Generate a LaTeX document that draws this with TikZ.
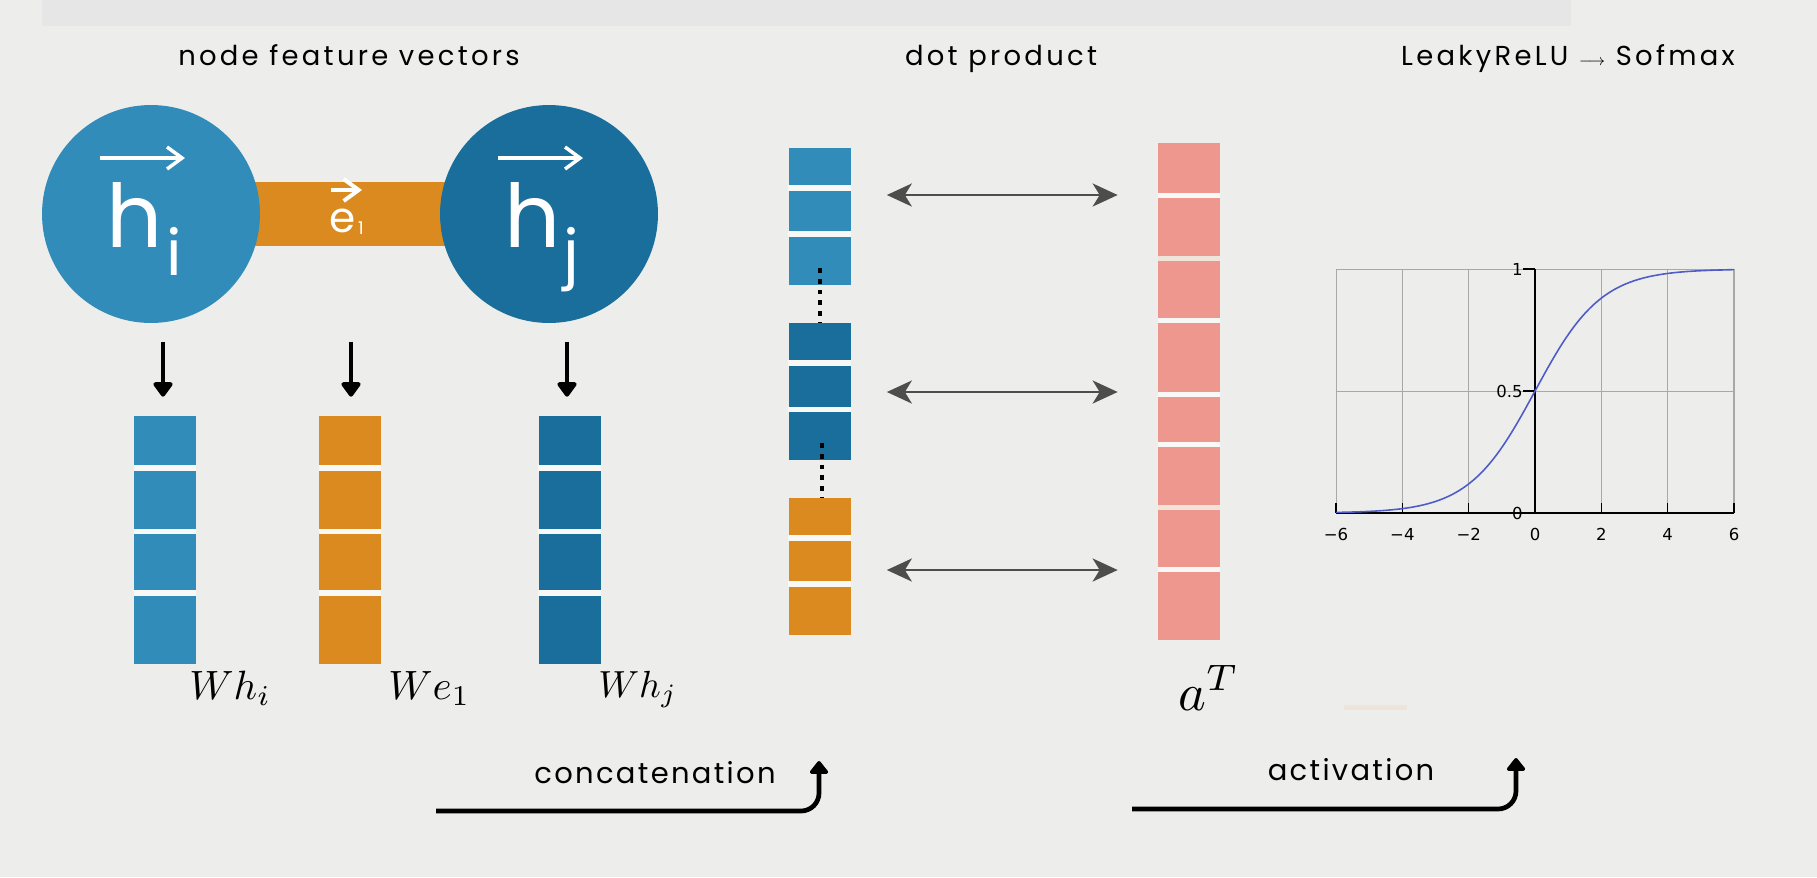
\documentclass[tikz,border=0pt]{standalone}
\usepackage{amsmath}
\usepackage{graphicx}
\usepackage{fontspec}
\usepackage{tikz}
\usetikzlibrary{arrows.meta,calc}

\newfontfamily\gothic[LetterSpace=12]{Poppins}
\newfontfamily\stepfont[LetterSpace=8]{Poppins}
\newfontfamily\hfont{Poppins}
\newfontfamily\tickfont{DejaVu Sans}

\definecolor{bgcol}{HTML}{EDEEEC}
\definecolor{topbar}{HTML}{E6E6E6}
\definecolor{lblue}{HTML}{318CBA}
\definecolor{dblue}{HTML}{1A6E9C}
\definecolor{orng}{HTML}{DB8A20}
\definecolor{salmon}{HTML}{EE978E}
\definecolor{beige}{HTML}{EFE4DA}
\definecolor{arrgray}{HTML}{4D4D4D}
\definecolor{sigblue}{HTML}{4F5BC8}
\definecolor{gridgray}{HTML}{A8A8A8}

\pgfdeclarelayer{back}
\pgfsetlayers{back,main}

\begin{document}
\begin{tikzpicture}[
        x=0.02cm, y=-0.02cm,
        title/.style={font=\gothic\fontsize{15.6}{18}\selectfont, anchor=base, inner sep=0},
        steplbl/.style={font=\stepfont\fontsize{16.5}{20}\selectfont, anchor=base, inner sep=0},
        mathlbl/.style={anchor=base west, inner sep=0},
        feat/.style={circle, minimum size=4.36cm, inner sep=0},
        vecbox/.style={inner sep=0, minimum width=1.24cm},
        cellsep/.style={line width=0.11cm, bgcol!40!white},
        hglyph/.style={font=\hfont\fontsize{50}{50}\selectfont, text=white, anchor=base, inner sep=0},
        subglyph/.style={font=\hfont\fontsize{36}{36}\selectfont, text=white, anchor=base, inner sep=0},
        overarr/.style={white, line width=0.07cm, -{Straight Barb[length=0.3cm,width=0.44cm]}},
        downarr/.style={line width=0.08cm, -{Triangle[length=0.32cm,width=0.44cm,round]}},
        dblarr/.style={arrgray, line width=0.055cm, shorten <=0.72cm, shorten >=0.8cm,
            {Stealth[length=0.5cm,width=0.46cm,inset=0.14cm]}-{Stealth[length=0.5cm,width=0.46cm,inset=0.14cm]}},
        dotline/.style={line width=0.094cm, dash pattern=on 0.094cm off 0.12cm},
        bendarr/.style={line width=0.094cm, rounded corners=0.36cm, -{Triangle[length=0.28cm,width=0.42cm,round]}},
        gridline/.style={gridgray, line width=0.6pt},
        axisline/.style={black, line width=0.9pt},
        ticklbl/.style={font=\tickfont\fontsize{9.4}{10}\selectfont, inner sep=0}
    ]
    \useasboundingbox (0,0) rectangle (1817,877);
    \begin{pgfonlayer}{back}
        \fill[bgcol] (0,0) rectangle (1817,877);
        \fill[topbar] (42,0) rectangle (1571,26);
    \end{pgfonlayer}

    % titles
    \node[title] (ttlfeat) at (349,65) {node feature vectors};
    \node[title] (ttldot) at (1001,65) {dot product};
    \node[title] (ttlact) at (1568,65) {LeakyReLU {\fontsize{9}{9}\selectfont$\longrightarrow$} Sofmax};

    % graph: two nodes and the edge
    \node[feat, fill=lblue] (hi) at (151,214) {};
    \node[feat, fill=dblue] (hj) at (549,214) {};
    \begin{pgfonlayer}{back}
        \draw[orng, line width=1.28cm] (hi.center) -- (hj.center);
    \end{pgfonlayer}

    \node[hglyph] (hih) at (135,247) {h};
    \node[subglyph] (hii) at (174,275) {i};
    \draw[overarr] ($(hi)+(-51,-56)$) -- ++(85,0);
    \node[hglyph] (hjh) at (533,247) {h};
    \node[subglyph] (hjj) at (571,275) {j};
    \draw[overarr] ($(hj)+(-51,-56)$) -- ++(85,0);
    \node[text=white, font=\hfont\fontsize{24}{24}\selectfont, anchor=base, inner sep=0] (e1e) at (343,232) {e};
    \node[text=white, font=\hfont\fontsize{10}{10}\selectfont, anchor=base, inner sep=0] (e1s) at (361,234) {1};
    \draw[overarr, line width=0.08cm] ($(hi)!0.5!(hj)+(-19,-24)$) -- ++(31,0);

    % projected vectors
    \node[vecbox, fill=lblue, minimum height=4.96cm] (whi) at (165,540) {};
    \node[vecbox, fill=orng, minimum height=4.96cm] (we1) at (350,540) {};
    \node[vecbox, fill=dblue, minimum height=4.96cm] (whj) at (569.5,540) {};
    \foreach \v in {whi,we1,whj}{
        \foreach \sy in {468,531.5,593}
            \draw[cellsep] (\v.west |- 0,\sy) -- (\v.east |- 0,\sy);
    }
    \draw[downarr] (whi.north) ++(-2,-74) -- ++(0,55);
    \draw[downarr] (we1.north) ++(1,-74) -- ++(0,55);
    \draw[downarr] (whj.north) ++(-2.5,-74) -- ++(0,55);

    \node[mathlbl] (lwhi) at (189,699) {\scalebox{2.33}{$Wh_i$}};
    \node[mathlbl] (lwe1) at (388,699) {\scalebox{2.33}{$We_1$}};
    \node[mathlbl] (lwhj) at (598,697) {\scalebox{2.15}{$Wh_j$}};

    % concatenated vector
    \node[vecbox, fill=lblue, minimum height=2.74cm] (cb1) at (819.5,216.5) {};
    \node[vecbox, fill=dblue, minimum height=2.74cm] (cb2) at (819.5,391.5) {};
    \node[vecbox, fill=orng, minimum height=2.74cm] (cb3) at (819.5,566.5) {};
    \foreach \sy in {188,234} \draw[cellsep] (cb1.west |- 0,\sy) -- (cb1.east |- 0,\sy);
    \foreach \sy in {363,409.5} \draw[cellsep] (cb2.west |- 0,\sy) -- (cb2.east |- 0,\sy);
    \foreach \sy in {538,584} \draw[cellsep] (cb3.west |- 0,\sy) -- (cb3.east |- 0,\sy);
    \draw[dotline] ($(cb1.south)+(0.5,-17)$) -- ++(0,55);
    \draw[dotline] ($(cb2.south)+(2.5,-17)$) -- ++(0,55);

    % attention vector
    \node[vecbox, fill=salmon, minimum height=9.94cm] (at) at (1189,391.5) {};
    \foreach \sy in {195.5,320.5,394.5,444,569}
        \draw[cellsep, line width=0.1cm] (at.west |- 0,\sy) -- (at.east |- 0,\sy);
    \foreach \sy in {258.5,507}
        \draw[line width=0.1cm, beige] (at.west |- 0,\sy) -- (at.east |- 0,\sy);
    \node[mathlbl] (lat) at (1178,710) {\scalebox{3.0}{$a^T$}};
    \fill[beige] (1344,705) rectangle (1407,710);

    \draw[dblarr] (cb1.east |- 0,195) -- (at.west |- 0,195);
    \draw[dblarr] (cb2.east |- 0,392) -- (at.west |- 0,392);
    \draw[dblarr] (cb3.east |- 0,570) -- (at.west |- 0,570);

    % sigmoid
    \begin{scope}[shift={(1535,513)}, x=0.6634cm, y=4.88cm]
        \foreach \gx in {-6,-4,-2,2,4,6} \draw[gridline] (\gx,0) -- (\gx,1);
        \draw[gridline] (-6,0.5) -- (6,0.5);
        \draw[gridline] (-6,1) -- (6,1);
        \draw[axisline] (0,0) -- (0,1);
        \draw[axisline] (-6,0) -- (6,0);
        \foreach \gx in {-6,-4,-2,0,2,4,6} \draw[axisline] (\gx,0) -- (\gx,0.042);
        \foreach \gy in {0,0.5,1} {
            \draw[axisline] (-0.36,\gy) -- (0,\gy);
            \node[ticklbl, anchor=east] at (-0.36,\gy) {\gy};
        }
        \foreach \gx/\gl in {-6/−6,-4/−4,-2/−2,0/0,2/2,4/4,6/6}
            \node[ticklbl, anchor=north] at (\gx,-0.06) {\gl};
        \draw[sigblue, line width=0.9pt] plot[domain=-6:6, samples=120, smooth] (\x, {1/(1+exp(-\x))});
    \end{scope}

    % bottom steps
    \node[steplbl] (concat) at (655,783) {concatenation};
    \coordinate (cstart) at (436,811);
    \coordinate (cend) at (819,761);
    \draw[bendarr] (cstart) -| (cend);
    \node[steplbl] (activ) at (1351,780) {activation};
    \coordinate (astart) at (1132,809);
    \coordinate (aend) at (1516,758);
    \draw[bendarr] (astart) -| (aend);
\end{tikzpicture}
\end{document}
